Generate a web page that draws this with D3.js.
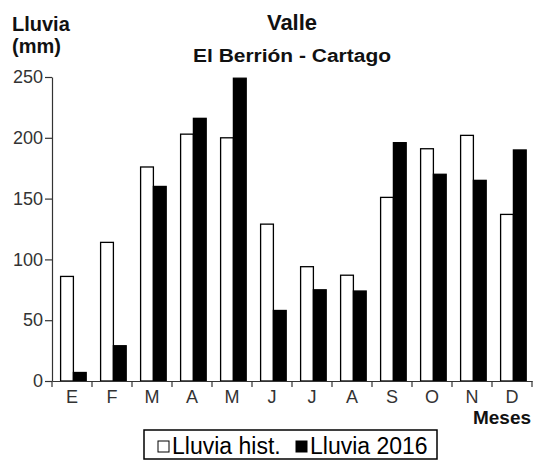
<!DOCTYPE html>
<html>
<head>
<meta charset="utf-8">
<script src="https://cdn.jsdelivr.net/npm/d3@7"></script>
<style>
  html, body { margin: 0; padding: 0; background: #fff; }
  svg { display: block; font-family: "Liberation Sans", Arial, sans-serif; }
</style>
</head>
<body>
<svg id="chart" width="536" height="462"></svg>
<script>
const months = ["E", "F", "M", "A", "M", "J", "J", "A", "S", "O", "N", "D"];
const histValues = [86, 114, 176, 203, 200, 129, 94, 87, 151, 191, 202, 137];
const values2016 = [7, 29, 160, 216, 249, 58, 75, 74, 196, 170, 165, 190];
const seriesNames = ["Lluvia hist.", "Lluvia 2016"];
const seriesFill = ["#ffffff", "#000000"];
const yTicks = [0, 50, 100, 150, 200, 250];

const svg = d3.select("#chart");
const plotLeft = 52, plotRight = 532, plotTop = 77, plotBottom = 381;

const idx = months.map((m, i) => i);
const x = d3.scaleBand().domain(idx).range([plotLeft, plotRight]).padding(0);
const bw = x.bandwidth();
const xs = d3.scaleBand().domain([0, 1]).range([bw * 0.215, bw * 0.855]).padding(0);
const y = d3.scaleLinear().domain([0, 250]).range([plotBottom, plotTop]);

// bars
const series = [histValues, values2016];
series.forEach((vals, s) => {
  svg.append("g").selectAll("rect").data(vals).join("rect")
    .attr("x", (d, i) => x(i) + xs(s))
    .attr("y", d => y(d))
    .attr("width", xs.bandwidth())
    .attr("height", d => y(0) - y(d))
    .attr("fill", seriesFill[s])
    .attr("stroke", "#000")
    .attr("stroke-width", 1.3);
});

// y axis
const yAxis = svg.append("g").attr("transform", `translate(${plotLeft},0)`)
  .call(d3.axisLeft(y).tickValues(yTicks).tickSize(7).tickPadding(2).tickSizeOuter(0));
yAxis.select(".domain").attr("stroke", "#333").attr("stroke-width", 1.2);
yAxis.selectAll(".tick line").attr("stroke", "#333").attr("stroke-width", 1.2);
yAxis.selectAll(".tick text").attr("fill", "#333").attr("font-size", 18)
  .attr("font-family", "Liberation Sans, Arial, sans-serif");

// x axis (labels at centers)
const xAxis = svg.append("g").attr("transform", `translate(0,${plotBottom})`)
  .call(d3.axisBottom(x).tickFormat(i => months[i]).tickSize(0).tickPadding(9));
xAxis.select(".domain").attr("stroke", "#333").attr("stroke-width", 1.2);
xAxis.selectAll(".tick text").attr("fill", "#333").attr("font-size", 18)
  .attr("font-family", "Liberation Sans, Arial, sans-serif");
// boundary ticks
const bounds = idx.map(i => x(i)).concat([x(idx[idx.length - 1]) + bw]);
svg.append("g").selectAll("line").data(bounds).join("line")
  .attr("x1", d => d).attr("x2", d => d)
  .attr("y1", plotBottom).attr("y2", plotBottom + 6)
  .attr("stroke", "#333").attr("stroke-width", 1.2);

// titles
svg.append("text").attr("x", 292).attr("y", 30).attr("text-anchor", "middle")
  .attr("font-size", 22).attr("font-weight", "bold").attr("fill", "#111").text("Valle");
svg.append("text").attr("x", 292).attr("y", 62).attr("text-anchor", "middle")
  .attr("font-size", 18).attr("font-weight", "bold").attr("fill", "#111")
  .attr("textLength", 198).attr("lengthAdjust", "spacingAndGlyphs")
  .text("El Berrión - Cartago");
svg.append("text").attr("x", 12).attr("y", 31)
  .attr("font-size", 20).attr("font-weight", "bold").attr("fill", "#111").text("Lluvia");
svg.append("text").attr("x", 12).attr("y", 53)
  .attr("font-size", 20).attr("font-weight", "bold").attr("fill", "#111").text("(mm)");
svg.append("text").attr("x", 531).attr("y", 424).attr("text-anchor", "end")
  .attr("font-size", 18).attr("font-weight", "bold").attr("fill", "#111")
  .attr("textLength", 58).attr("lengthAdjust", "spacingAndGlyphs")
  .text("Meses");

// legend
const lg = svg.append("g");
lg.append("rect").attr("x", 144).attr("y", 430).attr("width", 293).attr("height", 29)
  .attr("fill", "#fff").attr("stroke", "#000").attr("stroke-width", 1.5);
const legendX = [158, 296];
seriesNames.forEach((name, s) => {
  lg.append("rect").attr("x", legendX[s]).attr("y", 441).attr("width", 11).attr("height", 11)
    .attr("fill", seriesFill[s]).attr("stroke", "#000").attr("stroke-width", 1);
  lg.append("text").attr("x", legendX[s] + 14).attr("y", 454)
    .attr("font-size", 23).attr("fill", "#000").text(name);
});
</script>
</body>
</html>
